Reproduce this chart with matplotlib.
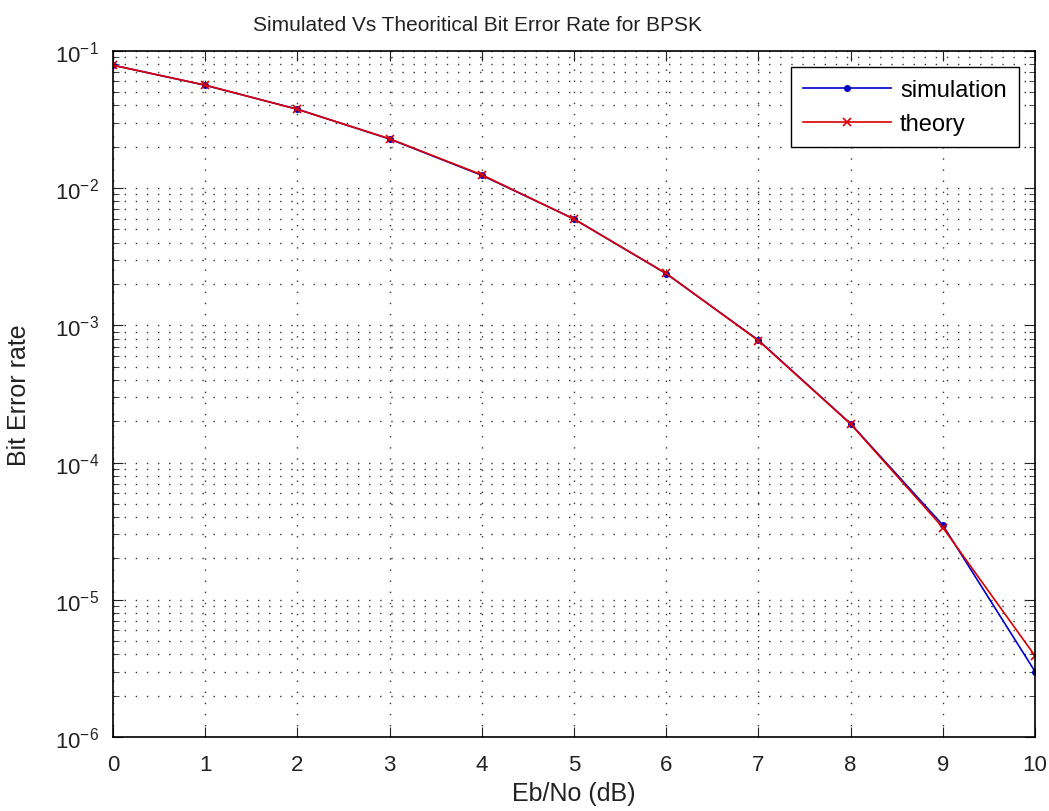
import matplotlib.pyplot as plt
from matplotlib.ticker import LogLocator, NullFormatter

plt.rcParams['font.family'] = ['Liberation Sans', 'DejaVu Sans']

# Eb/No in dB
ebno_db = [0, 1, 2, 3, 4, 5, 6, 7, 8, 9, 10]
# bit error rates
ber_sim = [0.0787, 0.0562, 0.0376, 0.0228, 0.0124, 0.00596, 0.00238, 7.8e-4, 1.92e-4, 3.5e-5, 3.0e-6]
ber_theory = [0.0786, 0.0563, 0.0375, 0.0229, 0.0125, 0.00595, 0.00239, 7.73e-4, 1.91e-4, 3.36e-5, 3.9e-6]

fig = plt.figure(figsize=(10.49, 8.12), dpi=100)
ax = fig.add_axes([0.1077, 0.0911, 0.879, 0.845])

ax.semilogy(ebno_db, ber_sim, color='#0000cc', marker='o', markersize=4, lw=1.2, label='simulation')
ax.semilogy(ebno_db, ber_theory, color='#dd0000', marker='x', markersize=6, mew=1.2, lw=1.2, label='theory')

ax.set_xlim(0, 10)
ax.set_ylim(1e-6, 1e-1)
ax.set_xticks(ebno_db)
ax.yaxis.set_major_locator(LogLocator(base=10, numticks=10))
ax.yaxis.set_minor_locator(LogLocator(base=10, subs=range(2, 10), numticks=20))
ax.yaxis.set_minor_formatter(NullFormatter())

# matlab style dotted grid, sparse dots
dots = (0, (1, 7))
ax.grid(True, which='major', linestyle=dots, color='#333333', lw=1.0)
ax.grid(True, which='minor', axis='y', linestyle=dots, color='#333333', lw=1.0)
ax.tick_params(which='both', direction='in', top=True, right=True, labelsize=16, colors='#222222')
ax.tick_params(which='major', length=7)
ax.tick_params(which='minor', length=4)
ax.tick_params(axis='x', pad=12)
ax.tick_params(axis='y', pad=10)
for s in ax.spines.values():
    s.set_linewidth(1.2)

# title sits left of centre in the original
ax.set_title('Simulated Vs Theoritical Bit Error Rate for BPSK', fontsize=15, pad=15,
             color='#222222', x=0.395)
ax.set_xlabel('Eb/No (dB)', fontsize=18, color='#222222')
ax.set_ylabel('Bit Error rate', fontsize=18, color='#222222')
ax.xaxis.set_label_coords(0.5, -0.064)
ax.yaxis.set_label_coords(-0.089, 0.5)

leg = ax.legend(loc='upper right', fontsize=17, fancybox=False, framealpha=1,
                edgecolor='black', handlelength=3.7, borderaxespad=0.7,
                labelspacing=0.5, handletextpad=0.4, borderpad=0.5)
leg.get_frame().set_linewidth(1.0)

fig.savefig('out.png', dpi=100)
